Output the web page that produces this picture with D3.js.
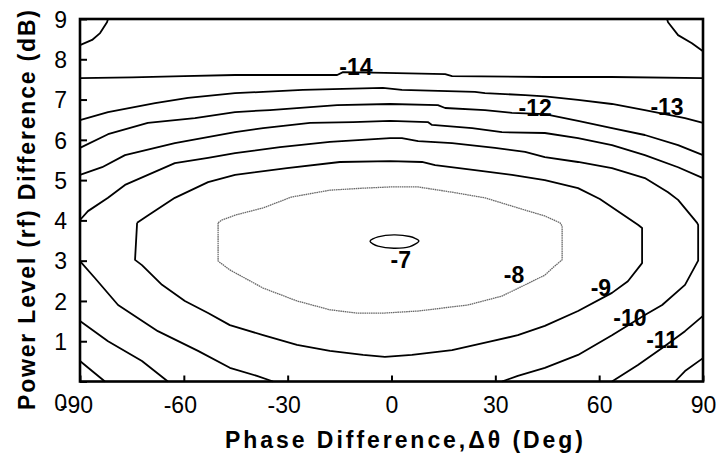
<!DOCTYPE html>
<html>
<head>
<meta charset="utf-8">
<script src="https://cdn.jsdelivr.net/npm/d3@7"></script>
<style>
  body { margin: 0; background: #fff; }
  svg { display: block; }
  text { font-family: "Liberation Sans", Arial, Helvetica, sans-serif; fill: #000; }
</style>
</head>
<body>
<svg id="chart" width="720" height="459"></svg>
<script>
// Axis ticks
const phaseTicks = [-90, -60, -30, 0, 30, 60, 90];
const powerTicks = [0, 1, 2, 3, 4, 5, 6, 7, 8, 9];

// Contour lines of the output level, as [phase (deg), power difference (dB)] polylines
const contourM15 = [
  [[-90, 8.35], [-86.5, 8.48], [-84.2, 8.65], [-82.2, 8.92], [-81.9, 9]],
  [[79.6, 9], [79.9, 8.92], [82.8, 8.6], [86.8, 8.4], [90, 8.2]]
];
const contourM14 = [
  [[-90, 7.53], [-75, 7.55], [-60, 7.58], [-45.2, 7.61], [-15.7, 7.61], [-14, 7.68], [-1.9, 7.66],
   [15.5, 7.63], [17.5, 7.58], [44.3, 7.56], [63.7, 7.56], [90, 7.53]]
];
const contourM13 = [
  [[-90, 6.49], [-81.9, 6.69], [-68.3, 6.91], [-58.8, 7.04], [-45.2, 7.16], [-37.1, 7.19], [-25.6, 7.24],
   [-2.5, 7.29], [3.0, 7.24], [24.1, 7.19], [27, 7.16], [38.6, 7.11], [44.3, 7.08], [53.9, 6.99],
   [63.7, 6.89], [73.2, 6.74], [84.8, 6.54], [90, 6.42]]
];
const contourM12 = [
  [[-90, 5.80], [-81.9, 6.14], [-70.4, 6.42], [-56.8, 6.54], [-45.2, 6.69], [-35.1, 6.74], [-15.7, 6.86],
   [-0.4, 6.89], [13.4, 6.86], [15.5, 6.79], [27, 6.74], [34.8, 6.67], [44.3, 6.64], [53.9, 6.47],
   [63.7, 6.29], [73.2, 6.12], [82.8, 5.87], [90, 5.62]],
  [[-90, 0.51], [-86.5, 0.26], [-82.8, 0]],
  [[81.9, 0], [84.8, 0.26], [90, 0.58]]
];
const contourM11 = [
  [[-90, 5.13], [-83.6, 5.32], [-77, 5.62], [-62.6, 5.92], [-45.2, 6.19], [-37.1, 6.29], [-23.5, 6.42],
   [-11.1, 6.44], [-0.4, 6.47], [10.5, 6.44], [11.7, 6.37], [23.3, 6.29], [31.9, 6.19], [44.3, 6.17],
   [53.9, 6.04], [63.7, 5.87], [73.2, 5.62], [82.8, 5.32], [90, 5.05]],
  [[-90, 1.50], [-81.9, 1.00], [-72.1, 0.51], [-64.6, 0]],
  [[63.7, 0], [71.2, 0.41], [78.2, 0.83], [84.8, 1.25], [90, 1.63]]
];
const contourM10 = [
  [[-34.2, 0], [-38.9, 0.14], [-46.7, 0.34], [-55.9, 0.76], [-67.5, 1.25], [-79, 1.90], [-85.7, 2.57],
   [-90, 2.99], [-90, 4.01], [-87.7, 4.23], [-81.9, 4.56], [-77, 4.88], [-62.6, 5.42], [-53, 5.55],
   [-45.2, 5.67], [-32.2, 5.82], [-17.8, 5.95], [-0.4, 6.04], [3.0, 6.04], [7.7, 5.97], [17.5, 5.92],
   [29.9, 5.80], [38.6, 5.70], [44.3, 5.57], [53.9, 5.45], [63.7, 5.30], [73.2, 5.05], [79.9, 4.70],
   [82.8, 4.51], [88.3, 3.94], [88.6, 3.89], [88.6, 3.0], [84.8, 2.40], [78.2, 1.90], [73.2, 1.65],
   [63.7, 1.15], [53.9, 0.66], [44.3, 0.34], [36.5, 0.14], [31.9, 0]]
];
const contourM9 = [
  [[-73.5, 3.94], [-70.6, 4.11], [-62.6, 4.56], [-53, 4.95], [-45.2, 5.13], [-30.2, 5.30], [-14.9, 5.45],
   [-0.4, 5.47], [8.8, 5.45], [12.6, 5.37], [24.1, 5.25], [34.8, 5.13], [44.3, 5.00], [53.9, 4.80],
   [60.2, 4.53], [71.2, 3.89], [72.4, 3.81], [72.4, 2.94], [68.3, 2.49], [63.7, 2.20], [53.9, 1.75],
   [44.3, 1.38], [36.5, 1.15], [29.0, 1.00], [17.5, 0.78], [5.9, 0.66], [-1.9, 0.61], [-8.2, 0.66],
   [-17.8, 0.76], [-27.3, 0.91], [-37.1, 1.15], [-46.7, 1.40], [-53, 1.70], [-59.7, 2.00], [-66.3, 2.40],
   [-72.1, 2.89], [-74.1, 3.02], [-73.5, 3.94]]
];
const contourM8 = [
  [[-50.1, 3.94], [-49.0, 4.01], [-45.2, 4.13], [-37.1, 4.31], [-28.9, 4.58], [-17.8, 4.75], [-8.2, 4.80],
   [-0.4, 4.83], [7.7, 4.83], [17.5, 4.70], [27.0, 4.56], [36.5, 4.31], [44.3, 4.11], [48.7, 3.94],
   [49.3, 3.86], [49.3, 3.02], [47.2, 2.87], [44.3, 2.64], [38.6, 2.40], [31.9, 2.12], [22.1, 1.90],
   [7.7, 1.75], [-1.9, 1.70], [-10, 1.70], [-17.8, 1.78], [-27.3, 2.00], [-37.1, 2.32], [-46.7, 2.77],
   [-50.1, 2.99], [-50.1, 3.94]]
];
const contourM7 = [
  [[-6.2, 3.48], [-3.9, 3.59], [0.7, 3.64], [5.3, 3.60], [7.9, 3.49], [5.3, 3.35], [0.7, 3.31], [-3.9, 3.36]]
];

// Level labels: value and the [phase, power] point they are written at
const labelLevels = [-14, -12, -13, -7, -8, -9, -10, -11];
const labelPhase  = [-10.3, 41.5, 79.6, 2.7, 35.4, 60.5, 68.9, 78.2];
const labelPower  = [7.61, 6.59, 6.62, 2.82, 2.45, 2.12, 1.38, 0.83];

const contours = [
  { level: -15, paths: contourM15 },
  { level: -14, paths: contourM14 },
  { level: -13, paths: contourM13 },
  { level: -12, paths: contourM12 },
  { level: -11, paths: contourM11 },
  { level: -10, paths: contourM10 },
  { level: -9,  paths: contourM9 },
  { level: -8,  paths: contourM8 },
  { level: -7,  paths: contourM7 }
];

const svg = d3.select("#chart");
const margin = { left: 80, top: 19, right: 17, bottom: 77.5 };
const W = 720, H = 459;

const x = d3.scaleLinear().domain([-90, 90]).range([margin.left, W - margin.right]);
const y = d3.scaleLinear().domain([0, 9]).range([H - margin.bottom, margin.top]);

// Contour lines
const line = d3.line().x(d => x(d[0])).y(d => y(d[1])).curve(d3.curveLinear);
const ellipse = d3.line().x(d => x(d[0])).y(d => y(d[1])).curve(d3.curveCardinalClosed.tension(0.2));

const gLines = svg.append("g");
contours.forEach(c => {
  c.paths.forEach(p => {
    const isTop = c.level === -7;
    gLines.append("path")
      .attr("d", isTop ? ellipse(p) : line(p))
      .attr("fill", "none")
      .attr("stroke", c.level === -8 ? "#6a6a6a" : "#000")
      .attr("stroke-width", c.level === -8 ? 1.3 : (c.level === -7 ? 1.4 : 1.8))
      .attr("stroke-dasharray", c.level === -8 ? "1.6,0.6" : null)
      .attr("stroke-linejoin", "round");
  });
});

// Level labels
svg.append("g").selectAll("text")
  .data(labelLevels)
  .join("text")
  .attr("x", (d, i) => x(labelPhase[i]))
  .attr("y", (d, i) => y(labelPower[i]))
  .attr("text-anchor", "middle")
  .attr("font-size", 23)
  .attr("font-weight", "bold")
  .text(d => d3.format("d")(d).replace("\u2212", "-"));

// Axes with inward ticks
const xAxis = d3.axisBottom(x).tickValues(phaseTicks).tickSizeInner(-6).tickSizeOuter(0).tickPadding(14)
  .tickFormat(d => String(d));
const yAxis = d3.axisLeft(y).tickValues(powerTicks).tickSizeInner(-7).tickSizeOuter(0).tickPadding(14)
  .tickFormat(d => String(d));

const gx = svg.append("g").attr("transform", `translate(0,${H - margin.bottom})`).call(xAxis);
const gy = svg.append("g").attr("transform", `translate(${margin.left},0)`).call(yAxis);

[gx, gy].forEach(g => {
  g.select(".domain").remove();
  g.selectAll(".tick line").attr("stroke", "#000").attr("stroke-width", 2);
  g.selectAll(".tick text").attr("font-size", 23).attr("fill", "#000")
    .style("font-family", "'Liberation Sans', Arial, sans-serif");
});
gx.selectAll(".tick text").attr("dy", null).attr("y", 31)
  .attr("dx", d => d < 0 ? -4 : 0);
// the zero of the power axis sits on the phase-label row
gy.selectAll(".tick text").attr("x", -13).attr("dy", "0.36em");
gy.selectAll(".tick").filter(d => d === 0).select("text").attr("dy", null).attr("y", 29);

// Plot frame
svg.append("rect")
  .attr("x", x(-90)).attr("y", y(9))
  .attr("width", x(90) - x(-90)).attr("height", y(0) - y(9))
  .attr("fill", "none").attr("stroke", "#000").attr("stroke-width", 2.6);

// Axis titles
svg.append("text")
  .attr("x", 404).attr("y", 448)
  .attr("text-anchor", "middle")
  .attr("font-size", 23).attr("font-weight", "bold")
  .attr("textLength", 358).attr("lengthAdjust", "spacing")
  .text("Phase Difference,\u0394\u03b8 (Deg)");

svg.append("text")
  .attr("transform", "translate(35,210) rotate(-90)")
  .attr("text-anchor", "middle")
  .attr("font-size", 23).attr("font-weight", "bold")
  .attr("textLength", 400).attr("lengthAdjust", "spacing")
  .text("Power Level (rf) Difference (dB)");
</script>
</body>
</html>
